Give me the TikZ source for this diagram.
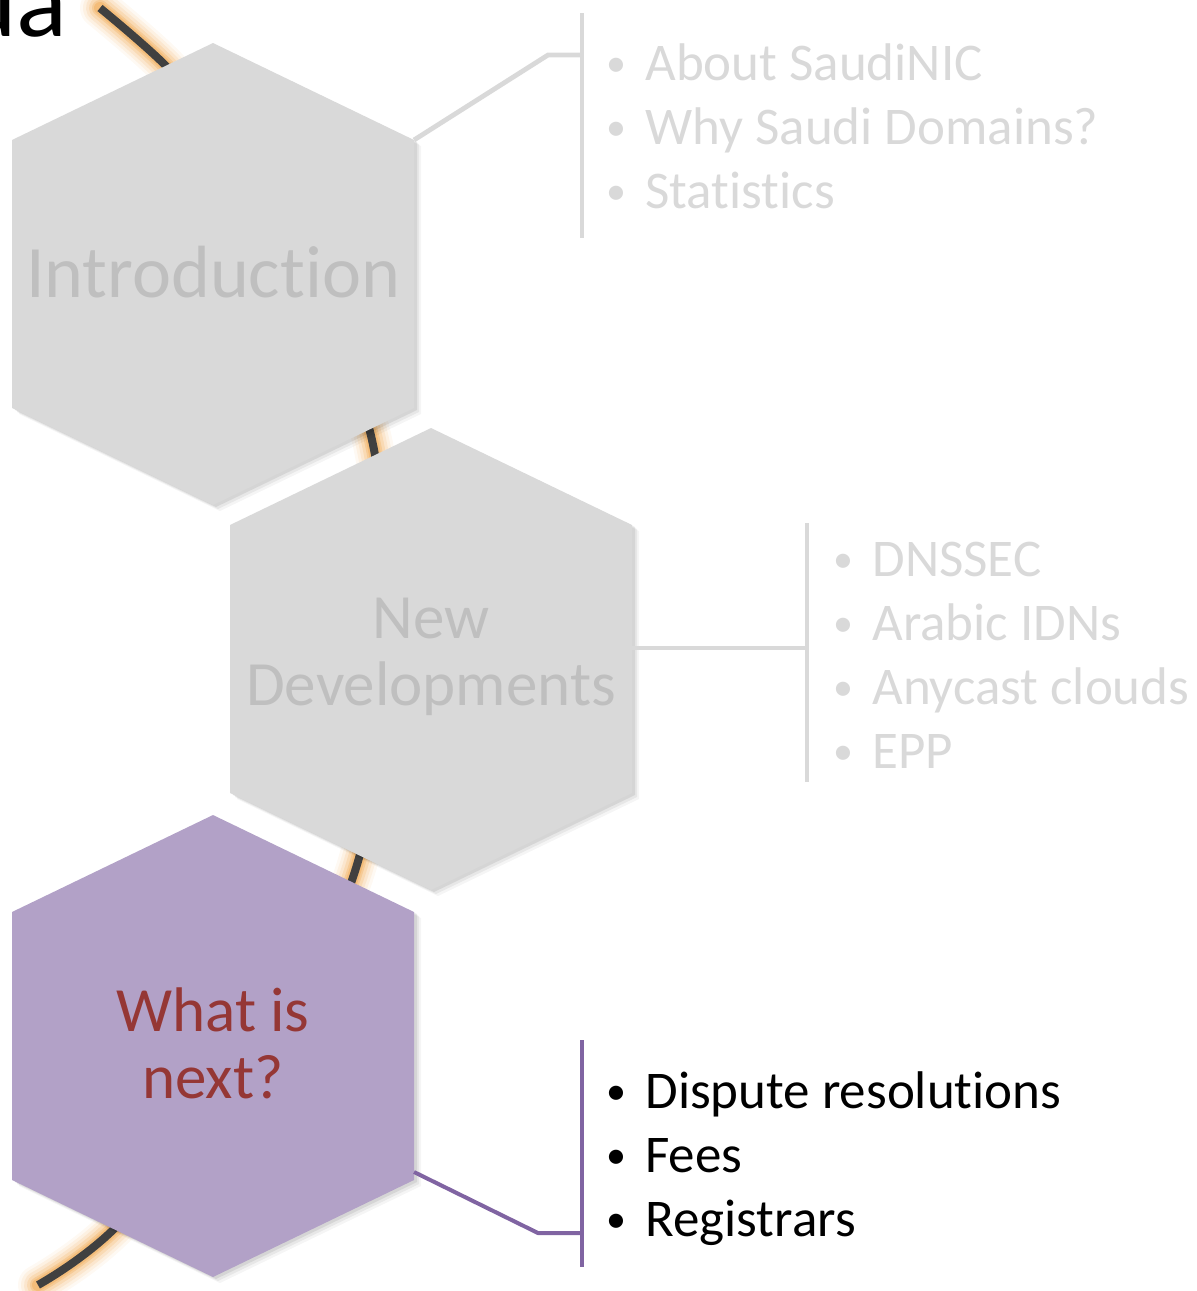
\documentclass[tikz,border=0pt]{standalone}
\usepackage{fontspec}
\setmainfont[Ligatures={NoCommon}]{Carlito}
\definecolor{hexg}{HTML}{D9D9D9}
\definecolor{hexp}{HTML}{B2A1C7}
\definecolor{labg}{HTML}{BFBFBF}
\definecolor{itemg}{HTML}{D9D9D9}
\definecolor{linep}{HTML}{8064A2}
\definecolor{nextred}{HTML}{953735}
\definecolor{curvedark}{HTML}{404040}
\definecolor{glow}{HTML}{F0A850}
\newcommand\hexat[3]{%
  \path[#1] (#2,#3) ++(0,-231) -- ++(201,97) -- ++(0,268) -- ++(-201,97) -- ++(-201,-97) -- ++(0,-268) -- cycle;}
\newcommand\hexwithshadow[3]{%
  \hexat{fill=black,opacity=0.04,shift={(7,6)}}{#2}{#3}%
  \hexat{fill=black,opacity=0.06,shift={(5,4)}}{#2}{#3}%
  \hexat{fill=black,opacity=0.08,shift={(3,2)}}{#2}{#3}%
  \hexat{fill=#1}{#2}{#3}}
\newcommand\bul{\makebox[20pt][l]{\hspace{0.5pt}\raisebox{1.6pt}{\fontsize{20}{20}\selectfont\textbullet}}}
\begin{document}
\begin{tikzpicture}[x=0.5pt,y=-0.5pt,
  itemgray/.style={anchor=base west,inner sep=0,text=itemg,font=\fontsize{26.5}{32}\selectfont},
  itemblack/.style={anchor=base west,inner sep=0,text=black,font=\fontsize{26.5}{32}\selectfont},
  hexlabel/.style={align=center,inner sep=0,font=\fontsize{31.5}{33.5}\selectfont},
  conngray/.style={draw=itemg,line width=2.4pt},
  connpurple/.style={draw=linep,line width=2pt},
  glowline/.style={draw=glow,line cap=round}]
\clip (0,0) rectangle (1196,1291);
% title fragment
\node[anchor=base east,inner sep=0,font=\fontsize{53}{53}\selectfont] (title) at (68,36) {Agenda};
% curve with glow
\foreach \w/\o in {20/0.07,17/0.10,14/0.14,11/0.2,8/0.3,6/0.4}{
  \draw[glowline,line width=\w pt,opacity=\o] plot[smooth,tension=0.55] coordinates {(100,8) (165,65) (225,135) (300,260) (372,440) (386,650) (356,868) (255,1070) (115,1228) (38,1285)};
}
\draw[draw=curvedark,line width=4pt] plot[smooth,tension=0.55] coordinates {(100,8) (165,65) (225,135) (300,260) (372,440) (386,650) (356,868) (255,1070) (115,1228) (38,1285)};
% hexagons
\hexwithshadow{hexg}{213}{274}
\hexwithshadow{hexg}{431}{659}
\hexwithshadow{hexp}{213}{1046}
% corner coordinates
\coordinate (h1ur) at (414,140);
\coordinate (h2r) at (632,648);
\coordinate (h3lr) at (414,1172);
% labels
\node[hexlabel,text=labg,font=\fontsize{37}{40}\selectfont] (intro) at (213,272) {Introduction};
\node[hexlabel,text=labg] (newdev) at (431,657) {New\\Developments};
\node[hexlabel,text=nextred] (next) at (213,1043) {What is\\next?};
% group 1
\coordinate (b1top) at (582,13);
\coordinate (b1bot) at (582,238);
\coordinate (b1mid) at (582,55);
\coordinate (c1) at (548,55);
\draw[conngray] (b1top) -- (b1bot);
\draw[conngray] (h1ur) -- (c1) -- (b1mid);
\node[itemgray] (i11) at (605,80) {\bul About SaudiNIC};
\node[itemgray] (i12) at (605,144) {\bul Why Saudi Domains?};
\node[itemgray] (i13) at (605,208) {\bul Statistics};
% group 2
\coordinate (b2top) at (807,523);
\coordinate (b2bot) at (807,782);
\coordinate (b2mid) at (807,648);
\draw[conngray] (b2top) -- (b2bot);
\draw[conngray] (h2r) -- (b2mid);
\node[itemgray] (i21) at (832,576) {\bul DNSSEC};
\node[itemgray] (i22) at (832,640) {\bul Arabic IDNs};
\node[itemgray] (i23) at (832,704) {\bul Anycast clouds};
\node[itemgray] (i24) at (832,768) {\bul EPP};
% group 3
\coordinate (b3top) at (582,1040);
\coordinate (b3bot) at (582,1267);
\coordinate (b3mid) at (582,1233);
\coordinate (c3) at (538,1233);
\draw[connpurple] (b3top) -- (b3bot);
\draw[connpurple] (h3lr) -- (c3) -- (b3mid);
\node[itemblack] (i31) at (605,1108) {\bul Dispute resolutions};
\node[itemblack] (i32) at (605,1172) {\bul Fees};
\node[itemblack] (i33) at (605,1236) {\bul Registrars};
\end{tikzpicture}
\end{document}
